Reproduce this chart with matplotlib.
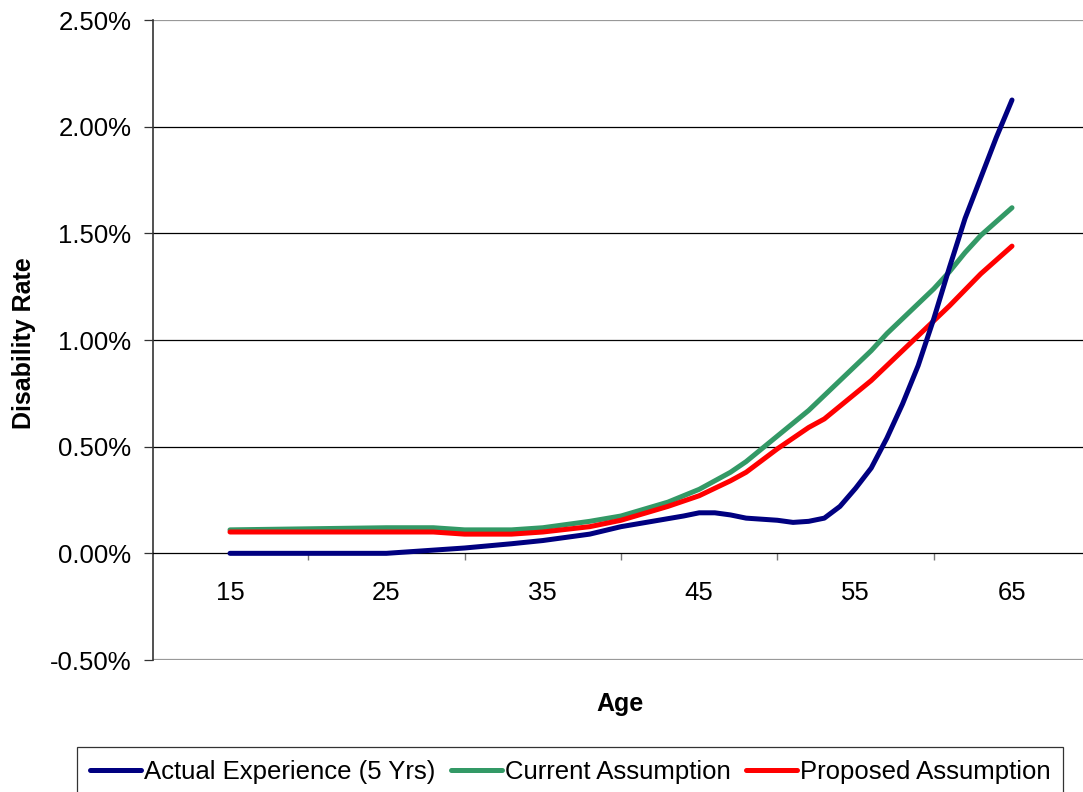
import matplotlib.pyplot as plt
from matplotlib.ticker import FixedLocator, FuncFormatter, NullFormatter

plt.rcParams['font.family'] = ['Liberation Sans', 'DejaVu Sans']

# ages and rates (in %)
actual_age = [15, 20, 25, 27, 30, 33, 35, 37, 38, 40, 42, 44, 45, 46, 47, 48, 50, 51, 52,
              53, 54, 55, 56, 57, 58, 59, 60, 61, 62, 63, 64, 65]
actual_rate = [0.0, 0.0, 0.0, 0.01, 0.025, 0.045, 0.06, 0.08, 0.09, 0.125, 0.15, 0.175, 0.19,
               0.19, 0.18, 0.165, 0.155, 0.145, 0.15, 0.165, 0.22, 0.305, 0.40, 0.54, 0.70,
               0.88, 1.10, 1.34, 1.57, 1.76, 1.95, 2.125]

current_age = [15, 20, 25, 28, 30, 33, 35, 38, 40, 43, 45, 47, 48, 50, 52, 53, 54, 55, 56,
               57, 58, 59, 60, 61, 62, 63, 64, 65]
current_rate = [0.11, 0.115, 0.12, 0.12, 0.11, 0.11, 0.12, 0.15, 0.175, 0.24, 0.30, 0.38,
                0.43, 0.55, 0.67, 0.74, 0.81, 0.88, 0.95, 1.03, 1.10, 1.17, 1.24, 1.32,
                1.41, 1.49, 1.555, 1.62]

proposed_age = [15, 20, 25, 28, 30, 33, 35, 38, 40, 43, 45, 47, 48, 50, 52, 53, 55, 56, 57,
                58, 59, 60, 61, 62, 63, 64, 65]
proposed_rate = [0.10, 0.10, 0.10, 0.10, 0.09, 0.09, 0.10, 0.125, 0.155, 0.22, 0.27, 0.34,
                 0.38, 0.49, 0.59, 0.63, 0.75, 0.81, 0.88, 0.95, 1.02, 1.09, 1.16, 1.235,
                 1.31, 1.375, 1.44]

age_labels = [15, 25, 35, 45, 55, 65]
age_ticks = [20, 30, 40, 50, 60]
y_ticks = [-0.5, 0.0, 0.5, 1.0, 1.5, 2.0, 2.5]

fig = plt.figure(figsize=(10.83, 7.92), dpi=100)
ax = fig.add_axes([153 / 1083, 1 - 660 / 792, 1 - 153 / 1083, (660 - 20) / 792])

ax.plot(actual_age, actual_rate, color='#000080', lw=3.6, solid_capstyle='round',
        solid_joinstyle='round', label='Actual Experience (5 Yrs)', zorder=5)
ax.plot(current_age, current_rate, color='#339966', lw=3.6, solid_capstyle='round',
        solid_joinstyle='round', label='Current Assumption', zorder=4)
ax.plot(proposed_age, proposed_rate, color='#FF0000', lw=3.6, solid_capstyle='round',
        solid_joinstyle='round', label='Proposed Assumption', zorder=4)

ax.set_xlim(15 - 77 / 15.64, 15 + (1083 - 230) / 15.64)
ax.set_ylim(-0.5, 2.5)

for y in [0.5, 1.0, 1.5, 2.0]:
    ax.axhline(y, color='black', lw=0.9, zorder=1)
ax.axhline(2.5, color='#999999', lw=1.6, zorder=1)
ax.axhline(-0.5, color='#999999', lw=1.6, zorder=1)

for side in ['top', 'right']:
    ax.spines[side].set_visible(False)
ax.spines['bottom'].set_position(('data', 0))
ax.spines['bottom'].set_color('black')
ax.spines['bottom'].set_linewidth(0.9)
ax.spines['left'].set_color('#333333')
ax.spines['left'].set_linewidth(1.2)

ax.set_yticks(y_ticks)
ax.yaxis.set_major_formatter(FuncFormatter(lambda v, p: f'{v:.2f}%'))
ax.tick_params(axis='y', length=6.5, width=0.9, color='#333333', labelsize=18.5, pad=9)

ax.xaxis.set_major_locator(FixedLocator(age_ticks))
ax.xaxis.set_major_formatter(NullFormatter())
ax.xaxis.set_minor_locator(FixedLocator(age_labels))
ax.xaxis.set_minor_formatter(FuncFormatter(lambda v, p: f'{v:.0f}'))
ax.tick_params(axis='x', which='major', length=5, width=1.0, color='#777777')
ax.tick_params(axis='x', which='minor', length=0, labelsize=18.5, pad=20)

fig.text(620 / 1083, 1 - 704 / 792, 'Age', fontsize=18, fontweight='bold',
         ha='center', va='center')
fig.text(24 / 1083, 1 - 343 / 792, 'Disability Rate', fontsize=18, fontweight='bold',
         rotation=90, ha='center', va='center')

leg = fig.legend(loc='upper left', bbox_to_anchor=(77 / 1083, 1 - 747 / 792), ncol=3,
                 fontsize=18.5, frameon=True, fancybox=False, handlelength=2.0,
                 handletextpad=0.1, columnspacing=0.6, borderpad=0.5, borderaxespad=0)
leg.get_frame().set_edgecolor('black')
leg.get_frame().set_linewidth(0.9)

fig.savefig('out.png', dpi=100)
